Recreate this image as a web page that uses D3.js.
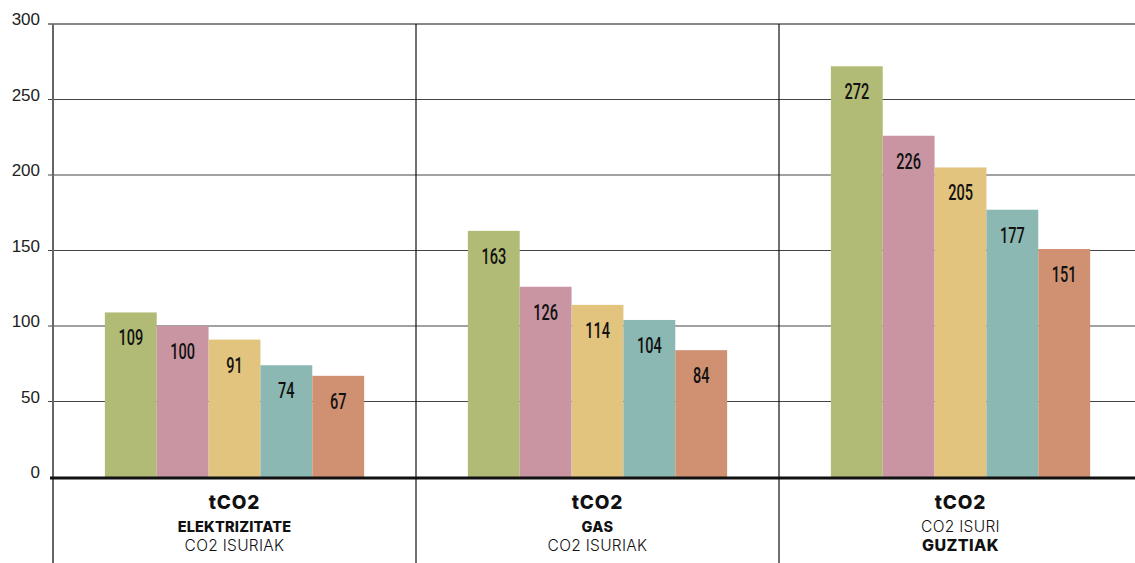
<!DOCTYPE html>
<html><head><meta charset="utf-8">
<script src="https://cdn.jsdelivr.net/npm/d3@7"></script>
<style>body{margin:0;background:#fff}svg{display:block}</style>
</head><body>
<svg id="c" width="1135" height="563"></svg>
<script>
const categories = ["ELEKTRIZITATE", "GAS", "GUZTIAK"];
const series = ["s1", "s2", "s3", "s4", "s5"];
const values = [
  [109, 100, 91, 74, 67],
  [163, 126, 114, 104, 84],
  [272, 226, 205, 177, 151]
];
const colors = ["#b2bb76", "#c995a2", "#e2c47f", "#8bb8b2", "#d09172"];
const yTicks = [0, 50, 100, 150, 200, 250, 300];
const groupLabels = [
  [{t:"tCO2", w:800, s:19, y:509, ls:0.8}, {t:"ELEKTRIZITATE", w:800, s:14.5, y:532, ls:0.2}, {t:"CO2 ISURIAK", w:300, s:15.5, y:551, ls:0.3}],
  [{t:"tCO2", w:800, s:19, y:509, ls:0.8}, {t:"GAS", w:800, s:14.5, y:532, ls:0.4}, {t:"CO2 ISURIAK", w:300, s:15.5, y:551, ls:0.3}],
  [{t:"tCO2", w:800, s:19, y:509, ls:0.8}, {t:"CO2 ISURI", w:300, s:15.5, y:532, ls:0.3}, {t:"GUZTIAK", w:800, s:16, y:551, ls:0.4}]
];

(function () {
const svg = d3.select("#c");
const mLeft = 53, mRight = 1142, mTop = 24, mBottom = 477;
const y = d3.scaleLinear().domain([0, 300]).range([mBottom, mTop]);
const x0 = d3.scaleBand().domain(categories).range([mLeft, mRight]).paddingInner(0).paddingOuter(0);
const x1 = d3.scaleBand().domain(series).range([0, x0.bandwidth()]).paddingOuter(1).paddingInner(0);

// gridlines
svg.append("g").selectAll("line").data(yTicks.filter(d => d > 0)).join("line")
  .attr("x1", 48).attr("x2", 1135).attr("y1", d => y(d)).attr("y2", d => y(d))
  .attr("stroke", d => d === 300 ? "#111" : "#444").attr("stroke-width", 1.2);

// tick labels
svg.append("g").selectAll("text").data(yTicks).join("text")
  .attr("x", 40).attr("y", d => y(d) + 1).attr("text-anchor", "end")
  .attr("font-family", "Liberation Sans, Arial, sans-serif").attr("font-size", 17).attr("fill", "#222")
  .text(d => d);

// bars
const g = svg.append("g").selectAll("g").data(categories).join("g")
  .attr("transform", d => `translate(${x0(d)},0)`);
g.selectAll("rect").data((d, i) => values[i].map((v, j) => ({v, s: series[j], j}))).join("rect")
  .attr("x", d => x1(d.s)).attr("width", x1.bandwidth())
  .attr("y", d => y(d.v)).attr("height", d => y(0) - y(d.v))
  .attr("fill", d => colors[d.j]);
g.selectAll("text.v").data((d, i) => values[i].map((v, j) => ({v, s: series[j], j}))).join("text")
  .attr("class", "v")
  .attr("transform", d => `translate(${x1(d.s) + x1.bandwidth() / 2},${y(d.v) + 33}) scale(0.66,1)`)
  .attr("text-anchor", "middle")
  .attr("font-family", "Roboto, sans-serif").attr("font-weight", 500).attr("font-size", 22).attr("fill", "#111")
  .text(d => d.v);

// vertical axis & dividers
svg.append("line").attr("x1", mLeft).attr("x2", mLeft).attr("y1", mTop).attr("y2", 563)
  .attr("stroke", "#666").attr("stroke-width", 2);
svg.append("g").selectAll("line").data(categories.slice(1)).join("line")
  .attr("x1", d => x0(d)).attr("x2", d => x0(d)).attr("y1", mTop).attr("y2", 563)
  .attr("stroke", "#111").attr("stroke-width", 1.2);

// zero line
svg.append("line").attr("x1", 50).attr("x2", 1135).attr("y1", y(0) + 1).attr("y2", y(0) + 1)
  .attr("stroke", "#111").attr("stroke-width", 3);

// group labels
categories.forEach((c, i) => {
  const cx = x0(c) + x0.bandwidth() / 2;
  groupLabels[i].forEach(l => {
    svg.append("text").attr("x", cx).attr("y", l.y).attr("text-anchor", "middle")
      .attr("font-family", "Inter, sans-serif").attr("font-weight", l.w)
      .attr("letter-spacing", l.ls)
      .attr("font-size", l.s).attr("fill", "#111").text(l.t);
  });
});
})();
</script>
</body></html>
